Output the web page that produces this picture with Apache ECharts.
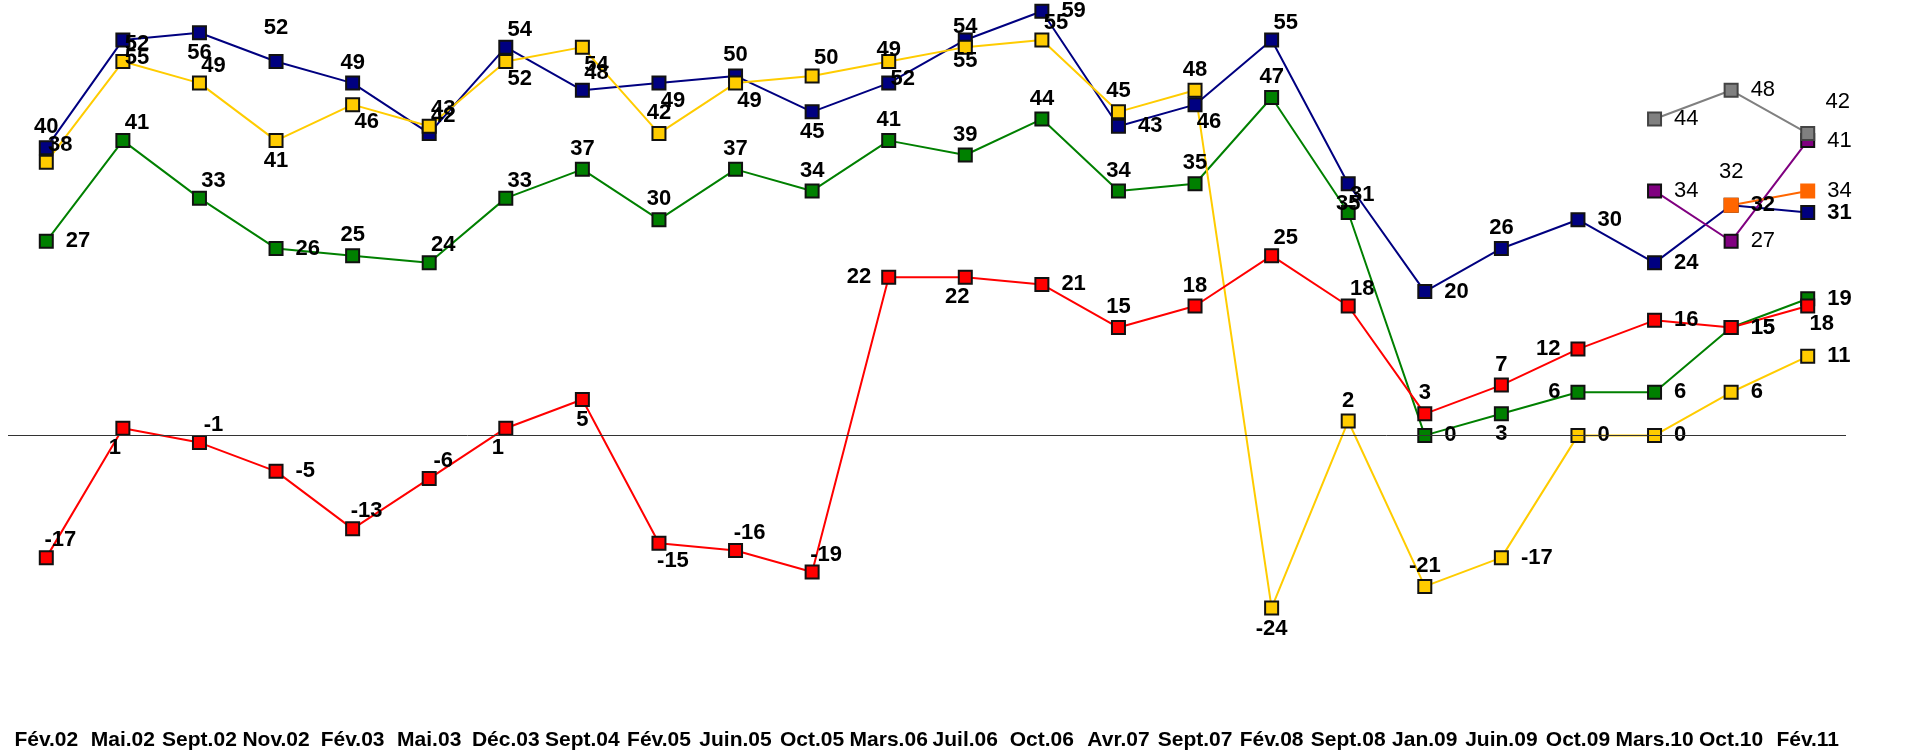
<!DOCTYPE html>
<html>
<head>
<meta charset="utf-8">
<script src="https://cdn.jsdelivr.net/npm/echarts@6/dist/echarts.min.js"></script>
<style>
  html, body { margin: 0; padding: 0; background: #fff; }
  #main { width: 1908px; height: 755px; }
</style>
</head>
<body>
<div id="main"></div>
<script>
var categories = ["Fév.02", "Mai.02", "Sept.02", "Nov.02", "Fév.03", "Mai.03", "Déc.03", "Sept.04", "Fév.05", "Juin.05",
  "Oct.05", "Mars.06", "Juil.06", "Oct.06", "Avr.07", "Sept.07", "Fév.08", "Sept.08", "Jan.09", "Juin.09",
  "Oct.09", "Mars.10", "Oct.10", "Fév.11"];

var blueValues = [40, 55, 56, 52, 49, 42, 54, 48, 49, 50, 45, 49, 55, 59, 43, 46, 55, 35, 20, 26, 30, 24, 32, 31];
var yellowValues = [38, 52, 49, 41, 46, 43, 52, 54, 42, 49, 50, 52, 54, 55, 45, 48, -24, 2, -21, -17, 0, 0, 6, 11];
var greenValues = [27, 41, 33, 26, 25, 24, 33, 37, 30, 37, 34, 41, 39, 44, 34, 35, 47, 31, 0, 3, 6, 6, 15, 19];
var redValues = [-17, 1, -1, -5, -13, -6, 1, 5, -15, -16, -19, 22, 22, 21, 15, 18, 25, 18, 3, 7, 12, 16, 15, 18];
var grayValues = [null, null, null, null, null, null, null, null, null, null, null, null, null, null, null, null, null, null, null, null, null, 44, 48, 42];
var purpleValues = [null, null, null, null, null, null, null, null, null, null, null, null, null, null, null, null, null, null, null, null, null, 34, 27, 41];
var orangeValues = [null, null, null, null, null, null, null, null, null, null, null, null, null, null, null, null, null, null, null, null, null, null, 32, 34];

// where each data label sits (t top, b bottom, r right, l left, tr/br/bl corners)
var blueLbl = ['t', 'br', 'b', 't2', 't', 'tr', 'tr', 'tr', 'br', 't', 'b', 't2', 'b', 'r', 'r', 'br', 'tr', 'b', 'r', 't', 'r', 'r', 'r', 'r'];
var yellowLbl = ['tr', 'tr', 'tr', 'b', 'br', 'tr', 'br', 'br', 't', 'br', 'tr', 'br', 't', 'tr', 't', 't', 'b', 't', 't', 'r', 'r', 'r', 'r', 'r'];
var greenLbl = ['r', 'tr', 'tr', 'r', 't', 'tr', 'tr', 't', 't', 't', 't', 't', 't', 't', 't', 't', 't', 'tr', 'r', 'b', 'l', 'r', 'r', 'r'];
var redLbl = ['tr', 'bl', 'tr', 'r', 'tr', 'tr', 'bl', 'b', 'br', 'tr', 'tr', 'l', 'bl', 'r', 't', 't', 'tr', 'tr', 't', 't', 'l', 'r', 'r', 'br'];
var grayLbl = [], purpleLbl = [], orangeLbl = [];
grayLbl[21] = 'r'; grayLbl[22] = 'r'; grayLbl[23] = 'tr2';
purpleLbl[21] = 'r'; purpleLbl[22] = 'r'; purpleLbl[23] = 'r';
orangeLbl[22] = 't2'; orangeLbl[23] = 'r';

var FONT = 'Liberation Sans, Arial, sans-serif';

function lbl(code) {
  switch (code) {
    case 't': return { position: 'top', distance: 2 };
    case 't2': return { position: 'top', distance: 2, offset: [0, -13] };
    case 'b': return { position: 'bottom', distance: 2 };
    case 'r': return { position: 'right', distance: 12 };
    case 'l': return { position: 'left', distance: 10 };
    case 'tr': return { position: 'top', distance: 1, offset: [14, 2] };
    case 'tr2': return { position: 'top', distance: 1, offset: [30, -12] };
    case 'br': return { position: 'bottom', distance: 1, offset: [14, -2] };
    case 'bl': return { position: 'bottom', distance: 1, offset: [-8, 0] };
    default: return { position: 'right', distance: 12 };
  }
}

function makeSeries(name, values, codes, color, bold, borderColor) {
  return {
    name: name,
    type: 'line',
    symbol: 'rect',
    symbolSize: 13,
    data: values.map(function (v, i) {
      if (v === null) return '-';
      return { value: v, label: lbl(codes[i]) };
    }),
    lineStyle: { color: color, width: 2 },
    itemStyle: { color: color, borderColor: borderColor, borderWidth: 2 },
    label: {
      show: true,
      color: '#000',
      fontSize: 22,
      fontWeight: bold ? 'bold' : 'normal',
      fontFamily: FONT
    },
    emphasis: { disabled: true }
  };
}

var chart = echarts.init(document.getElementById('main'));

var series = [
  makeSeries('green', greenValues, greenLbl, '#008000', true, '#111'),
  makeSeries('blue', blueValues, blueLbl, '#000080', true, '#111'),
  makeSeries('yellow', yellowValues, yellowLbl, '#FFCC00', true, '#111'),
  makeSeries('red', redValues, redLbl, '#FF0000', true, '#111'),
  makeSeries('purple', purpleValues, purpleLbl, '#800080', false, '#111'),
  makeSeries('gray', grayValues, grayLbl, '#808080', false, '#444'),
  makeSeries('orange', orangeValues, orangeLbl, '#FF6600', false, '#FF6600')
];

// zero line
series[0].markLine = {
  silent: true,
  symbol: 'none',
  label: { show: false },
  lineStyle: { color: '#333', width: 1, type: 'solid' },
  data: [{ yAxis: 0 }]
};

var option = {
  animation: false,
  backgroundColor: '#fff',
  grid: { left: 8, right: 62, top: 4, bottom: 32, containLabel: false },
  xAxis: {
    type: 'category',
    data: categories,
    boundaryGap: true,
    axisLine: { show: false },
    axisTick: { show: false },
    axisLabel: {
      interval: 0,
      margin: 7,
      color: '#000',
      fontSize: 21,
      fontWeight: 'bold',
      fontFamily: FONT
    },
    splitLine: { show: false }
  },
  yAxis: {
    type: 'value',
    min: -40,
    max: 60,
    interval: 20,
    axisLine: { show: false },
    axisTick: { show: false },
    axisLabel: { show: false },
    splitLine: { show: false }
  },
  series: series
};

chart.setOption(option);
</script>
</body>
</html>
